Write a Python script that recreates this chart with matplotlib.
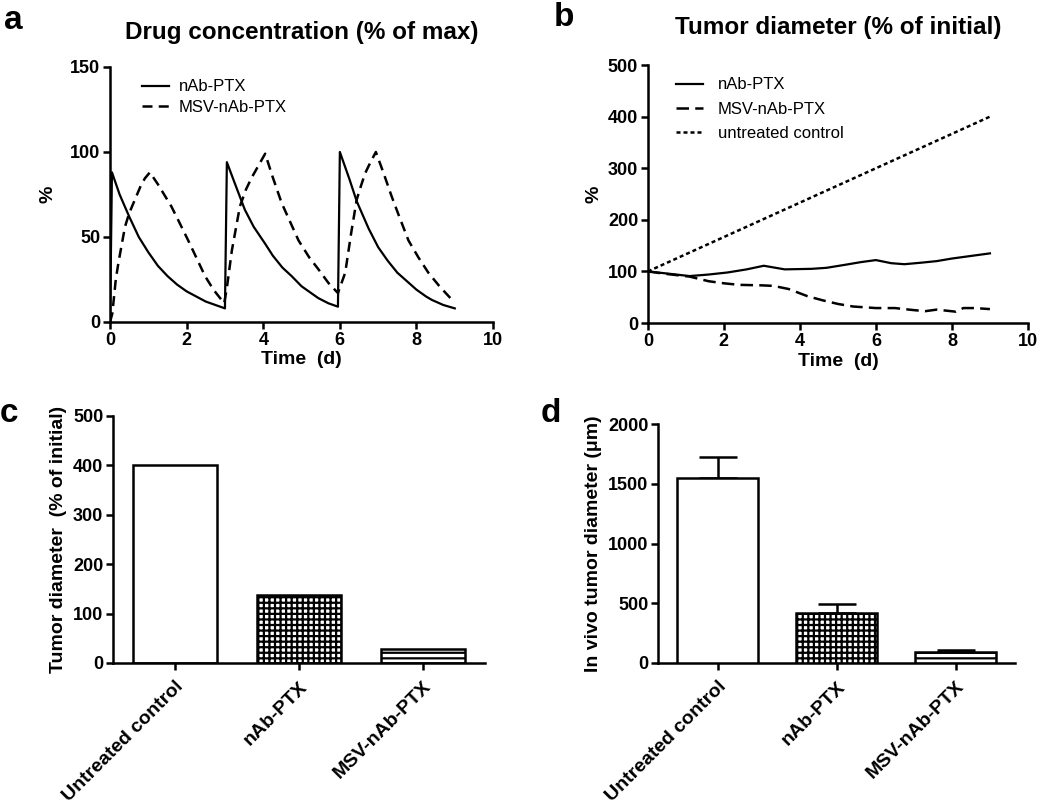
import numpy as np
import matplotlib.pyplot as plt

plt.rcParams['font.family'] = ['Liberation Sans', 'DejaVu Sans']
plt.rcParams['font.weight'] = 'bold'
plt.rcParams['axes.labelweight'] = 'bold'
plt.rcParams['axes.titleweight'] = 'bold'
plt.rcParams['hatch.linewidth'] = 1.6

# ---- panel a: drug concentration (% of max)
t_nab_a = [0, 0.05, 0.25, 0.5, 0.75, 1.0, 1.25, 1.5, 1.75, 2.0, 2.25, 2.5, 2.75, 3.0,
           3.05, 3.25, 3.52, 3.75, 4.05, 4.25, 4.5, 4.74, 5.0, 5.25, 5.44, 5.7, 5.95,
           6.0, 6.25, 6.44, 6.75, 7.0, 7.25, 7.5, 7.7, 8.0, 8.25, 8.4, 8.7, 9.0]
nab_a = [0, 88, 75, 62, 50, 41, 33, 27, 22, 18, 15, 12, 10, 8,
         94, 82, 66, 56, 46, 39, 32, 27, 21, 17, 14, 11, 9,
         100, 84, 71, 55, 44, 36, 29, 25, 19, 15, 13, 10, 8]
t_msv_a = [0, 0.06, 0.15, 0.22, 0.39, 0.5, 0.65, 0.8, 0.91, 1.04, 1.25, 1.6, 1.8, 2.04,
           2.25, 2.48, 2.7, 2.98,
           3.05, 3.18, 3.39, 3.55, 3.7, 3.9, 4.05, 4.25, 4.48, 4.7, 4.92, 5.2, 5.44, 5.7, 5.95,
           6.14, 6.3, 6.44, 6.55, 6.66, 6.8, 6.94, 7.15, 7.35, 7.55, 7.79, 8.05, 8.31, 8.6, 8.97]
msv_a = [0, 5, 25, 35, 56, 64, 72, 80, 84.5, 88, 81, 68, 59, 48,
         38, 27, 19, 11,
         20, 42, 68, 78, 85, 93, 99, 85, 70, 59, 48, 38, 31, 23, 17,
         29, 53, 72, 80, 87.5, 94, 100, 87, 74, 62, 48, 38, 29, 21, 12]

# ---- panel b: tumor diameter (% of initial)
t_nab_b = [0, 0.5, 1.1, 1.6, 2.1, 2.6, 3.05, 3.6, 4.3, 4.7, 5.2, 5.6, 6.0, 6.4, 6.75,
           7.2, 7.6, 8.0, 8.5, 9.0]
nab_b = [100, 96, 91, 94, 98, 104, 111, 104, 105, 107, 113, 118, 122, 116, 114,
         117, 120, 125, 130, 135]
t_msv_b = [0, 0.5, 1.1, 1.6, 2.0, 2.4, 3.0, 3.3, 3.7, 4.2, 4.6, 5.0, 5.4, 6.0, 6.5,
           7.0, 7.3, 7.6, 8.1, 8.3, 8.6, 9.0]
msv_b = [100, 95, 90, 81, 77, 74, 73, 72, 66, 52, 44, 37, 32, 29, 29,
         25, 23, 26, 22, 29, 29, 27]
t_ctrl_b = [0, 3, 6, 9]
ctrl_b = [100, 200, 300, 400]

# ---- panels c and d: bars
groups = ['Untreated control', 'nAb-PTX', 'MSV-nAb-PTX']
model_vals = [400, 137, 28]
vivo_vals = [1550, 415, 90]
vivo_err = [170, 75, 15]
hatches = ['', '+++', '---']


def prism(ax):
    for s in ['top', 'right']:
        ax.spines[s].set_visible(False)
    for s in ['left', 'bottom']:
        ax.spines[s].set_linewidth(1.8)
    ax.tick_params(width=1.8, length=5, labelsize=13, pad=2)


fig = plt.figure(figsize=(10.5, 8.1), dpi=100)

# a
ax = fig.add_axes([0.1048, 0.6025, 0.3648, 0.3148])
ax.plot(t_nab_a, nab_a, color='black', lw=1.6, label='nAb-PTX')
ax.plot(t_msv_a, msv_a, color='black', lw=1.8, dashes=(4, 2.5), label='MSV-nAb-PTX')
ax.set_xlim(0, 10); ax.set_ylim(0, 150)
ax.set_xticks([0, 2, 4, 6, 8, 10]); ax.set_yticks([0, 50, 100, 150])
ax.set_xlabel('Time  (d)', fontsize=14, labelpad=2)
ax.set_ylabel('%', fontsize=14, labelpad=10)
ax.set_title('Drug concentration (% of max)', fontsize=17.5, pad=20)
ax.legend(loc='upper left', bbox_to_anchor=(0.045, 1.01), frameon=False,
          prop={'weight': 'normal', 'size': 12}, handlelength=1.6, handletextpad=0.6,
          labelspacing=0.35)
prism(ax)

# b
ax = fig.add_axes([0.617, 0.6012, 0.362, 0.3185])
ax.plot(t_nab_b, nab_b, color='black', lw=1.6, label='nAb-PTX')
ax.plot(t_msv_b, msv_b, color='black', lw=1.8, dashes=(5, 2.5), label='MSV-nAb-PTX')
ax.plot(t_ctrl_b, ctrl_b, color='black', lw=1.8, dashes=(1.6, 1.2), label='untreated control')
ax.set_xlim(0, 10); ax.set_ylim(0, 500)
ax.set_xticks([0, 2, 4, 6, 8, 10]); ax.set_yticks([0, 100, 200, 300, 400, 500])
ax.set_xlabel('Time  (d)', fontsize=14, labelpad=2)
ax.set_ylabel('%', fontsize=14, labelpad=4)
ax.set_title('Tumor diameter (% of initial)', fontsize=17.5, pad=22)
ax.legend(loc='upper left', bbox_to_anchor=(0.035, 1.01), frameon=False,
          prop={'weight': 'normal', 'size': 12}, handlelength=1.6, handletextpad=0.9,
          labelspacing=0.55)
prism(ax)

x = np.arange(len(groups))

# c
ax = fig.add_axes([0.1076, 0.1815, 0.354, 0.305])
bars = ax.bar(x, model_vals, width=0.68, color='white', edgecolor='black', lw=1.8)
for b, h in zip(bars, hatches):
    b.set_hatch(h)
ax.set_xlim(-0.5, 2.5); ax.set_ylim(0, 500)
ax.set_yticks([0, 100, 200, 300, 400, 500])
ax.set_xticks(x)
ax.set_xticklabels(groups, rotation=45, ha='right', rotation_mode='anchor', fontsize=14)
ax.set_ylabel('Tumor diameter  (% of initial)', fontsize=14, labelpad=4)
prism(ax)
ax.tick_params(axis='x', labelsize=14, pad=6)

# d
ax = fig.add_axes([0.6267, 0.1815, 0.34, 0.295])
bars = ax.bar(x, vivo_vals, width=0.68, color='white', edgecolor='black', lw=1.8, zorder=3)
for b, h in zip(bars, hatches):
    b.set_hatch(h)
ax.errorbar(x, vivo_vals, yerr=[np.zeros(3), vivo_err], fmt='none', ecolor='black',
            elinewidth=1.8, capsize=14, capthick=1.8, zorder=2)
ax.set_xlim(-0.5, 2.5); ax.set_ylim(0, 2000)
ax.set_yticks([0, 500, 1000, 1500, 2000])
ax.set_xticks(x)
ax.set_xticklabels(groups, rotation=45, ha='right', rotation_mode='anchor', fontsize=14)
ax.set_ylabel('In vivo tumor diameter (μm)', fontsize=14, labelpad=4)
prism(ax)
ax.tick_params(axis='x', labelsize=14, pad=6)

for lab, (fx, fy) in zip('abcd', [(0.004, 0.975), (0.527, 0.978), (0.0, 0.49), (0.515, 0.49)]):
    fig.text(fx, fy, lab, fontsize=24, fontweight='bold', va='center')

fig.savefig('out.png', dpi=100)
